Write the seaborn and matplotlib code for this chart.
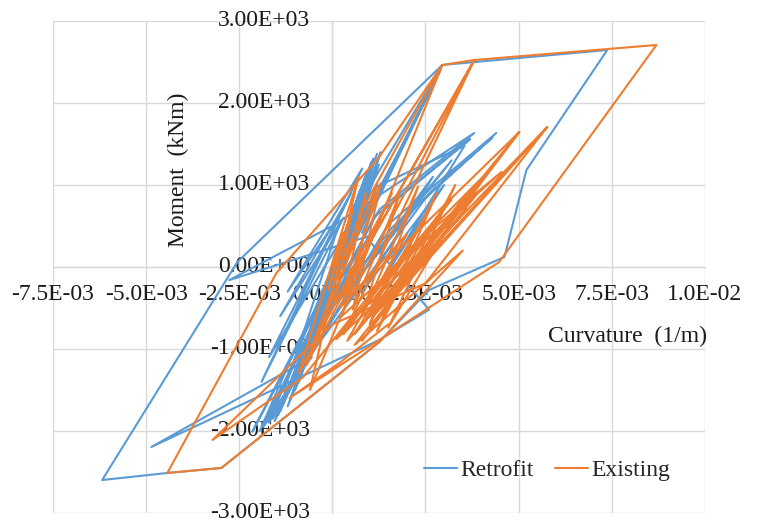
import numpy as np
import pandas as pd
import matplotlib
matplotlib.use("Agg")
import matplotlib.pyplot as plt
from matplotlib.ticker import MultipleLocator, FuncFormatter
import seaborn as sns

# ---------------------------------------------------------------------------
# DATA  (curvature in 1e-3 1/m, moment in kNm), vertices in load order
# ---------------------------------------------------------------------------
retrofit_curv = [
    0.00, 0.25, -0.20, 0.45, -0.35, 0.60, -0.50, 0.75, -0.65, 0.90,
    -0.80, 1.05, -0.95, 0.55, -1.10, 1.15, -0.25, -1.25, 0.35, 1.20,
    -0.05, -1.40, 0.20, 0.95, -0.70, 1.10, -0.90, 0.40, -1.55, -0.30,
    0.85, -1.00, 1.25, 0.10, -1.20, 0.70, -1.70, -0.50, 1.30, -0.10,
    -1.45, 0.60, -1.70, 0.50, -1.40, 0.30, -1.90, 0.80, -1.20, 0.00,
    3.81, 1.26, -0.60, 2.30, 4.40, 1.50, -1.60, -0.20, 1.40, 3.70,
    1.10, -0.80, 2.60, 4.30, 1.60, -0.40, 0.90, 2.95, 1.80, -0.15,
    -2.15, -1.00, 1.20, 3.55, 1.00, 3.00, 0.80, 2.70, 0.50, 3.20,
    1.20, -1.85, -0.60, 1.00, 2.90, 1.53, -0.30, -1.95, -0.90, 1.00,
    -2.77, 0.20, -1.30, -0.55, -4.86, 1.26, 2.60, 0.80, 2.95, 7.38,
    5.21, 4.62, 2.60, 1.26, -2.98, -4.43, -6.18, -2.55, 2.95,
]
retrofit_moment = [
    0, 320, -260, 560, -480, 760, -700, 940, -880, 1120,
    -1060, 1280, -1250, 480, -1430, 1200, -320, -1600, 180, 1380,
    -120, -1760, -20, 1050, -1150, 1320, -1400, 350, -1880, -700,
    1000, -1500, 1250, -300, -1700, 800, -1900, -900, 1400, -400,
    -1800, 600, -1100, 900, -600, 600, -1400, 1200, -300, 500,
    1634, 700, -820, 760, 1634, 520, -1850, -620, 700, 1560,
    600, -1200, 900, 1580, 480, -700, 900, 2463, 1420, -240,
    -2010, -1020, 980, 1480, -400, 1000, -300, 1100, -250, 1300,
    200, -1950, -800, 700, 2400, 1146, -500, -2000, -900, 380,
    -160, 549, -1520, -1100, -2195, -890, -520, 420, 2463, 2646,
    1183, 122, -280, -915, -2451, -2512, -2598, 61, 2463,
]

existing_curv = [
    0.00, 0.30, -0.10, 0.55, 0.05, 0.90, 0.30, 1.30, 0.55, 1.80,
    0.80, 2.30, 1.00, 2.80, 1.20, 3.30, 1.50, 3.70, 0.60, 2.60,
    0.90, 3.10, 1.30, 3.60, 0.40, 2.00, 0.20, 1.60, -0.90, 0.70,
    -0.60, 0.50, 2.95, 0.80, -0.50, 3.81, 1.60, 0.20, 4.54, 2.00,
    0.30, 3.81, 1.00, -0.70, 1.20, 0.40, 5.02, 2.20, 0.80, 5.02,
    2.60, 1.10, 5.77, 2.50, 0.00, -3.22, -0.80, 1.50, 4.00, 2.00,
    0.10, 3.20, 1.00, 3.90, 1.60, 5.77, 3.00, 0.60, 3.50, 1.26,
    -2.98, -4.43, -1.50, 1.26, 2.95, 3.81, 8.70, 4.48, 1.26, -1.15,
    0.19, 1.50,
]
existing_moment = [
    0, 420, -280, 720, -430, 900, -380, 1020, -520, 880,
    -600, 980, -700, 900, -780, 1000, -740, 940, -820, 700,
    -650, 800, -500, 700, -900, 400, -500, 900, -1300, 1100,
    -1500, -300, 2463, 700, -900, 2524, 600, -620, 1159, 200,
    -820, 2524, 300, -1200, 1000, -400, 1646, 20, -900, 1646,
    300, -600, 1707, -200, -700, -2110, -1350, -60, 1080, -120,
    -880, 820, -450, 900, -400, 1707, 400, -950, 200, -915,
    -2451, -2512, -73, 1342, 2463, 2524, 2707, 61, -890, -1598,
    -1170, -700,
]

SERIES = ["Retrofit", "Existing"]
COLORS = ["#5B9BD5", "#ED7D31"]
TEXT_SIZE = 17


def build_frame():
    parts = []
    for name, curv, moment in [("Retrofit", retrofit_curv, retrofit_moment),
                               ("Existing", existing_curv, existing_moment)]:
        parts.append(pd.DataFrame({
            "curvature": np.array(curv) * 1e-3,
            "moment": moment,
            "series": name,
        }))
    return pd.concat(parts, ignore_index=True)


def sci(decimals):
    def fmt(v, _pos):
        if abs(v) < 1e-12:
            v = 0.0
        return f"{v:.{decimals}E}"
    return FuncFormatter(fmt)


def main():
    df = build_frame()

    sns.set_theme(style="white")
    plt.rcParams["font.family"] = ["Liberation Serif", "DejaVu Serif"]
    plt.rcParams["axes.unicode_minus"] = False

    fig = plt.figure(figsize=(7.58, 5.24), dpi=100)
    ax = fig.add_axes([0.0699, 0.021, 0.860, 0.939])

    sns.lineplot(data=df, x="curvature", y="moment", hue="series",
                 hue_order=SERIES, palette=COLORS, sort=False,
                 estimator=None, lw=1.5, ax=ax)

    ax.set_xlim(-0.0075, 0.01)
    ax.set_ylim(-3000, 3000)
    ax.xaxis.set_major_locator(MultipleLocator(0.0025))
    ax.yaxis.set_major_locator(MultipleLocator(1000))
    ax.xaxis.set_major_formatter(sci(1))
    ax.yaxis.set_major_formatter(sci(2))

    ax.grid(True, color="#d9d9d9", lw=1)
    ax.set_axisbelow(True)
    for t in ax.yaxis.get_major_ticks():
        if t.get_loc() >= 2999:
            t.gridline.set_visible(False)

    # Excel style: axes cross at the origin
    ax.spines["top"].set_visible(False)
    ax.spines["right"].set_visible(False)
    for side in ["left", "bottom"]:
        ax.spines[side].set_position(("data", 0))
        ax.spines[side].set_color("#d9d9d9")
        ax.spines[side].set_linewidth(1)
        ax.spines[side].set_zorder(0.5)

    ax.tick_params(axis="both", length=0, labelsize=TEXT_SIZE, labelcolor="#1a1a1a")
    ax.tick_params(axis="y", pad=16)
    ax.tick_params(axis="x", pad=12)
    plt.setp(ax.get_yticklabels(), va="center")
    ax.set_xlabel("")
    ax.set_ylabel("")

    ax.text(0.192, 0.697, "Moment  (kNm)", rotation=90, ha="center", va="center",
            fontsize=TEXT_SIZE, color="#1a1a1a", transform=ax.transAxes)
    ax.text(0.882, 0.358, "Curvature  (1/m)", ha="center", va="center",
            fontsize=TEXT_SIZE, color="#1a1a1a", transform=ax.transAxes)

    sns.move_legend(ax, "center", bbox_to_anchor=(0.758, 0.087), ncol=2,
                    frameon=False, title=None, fontsize=TEXT_SIZE,
                    handlelength=1.4, handletextpad=0.15, columnspacing=0.9)

    fig.savefig("out.png", dpi=100)


if __name__ == "__main__":
    main()
